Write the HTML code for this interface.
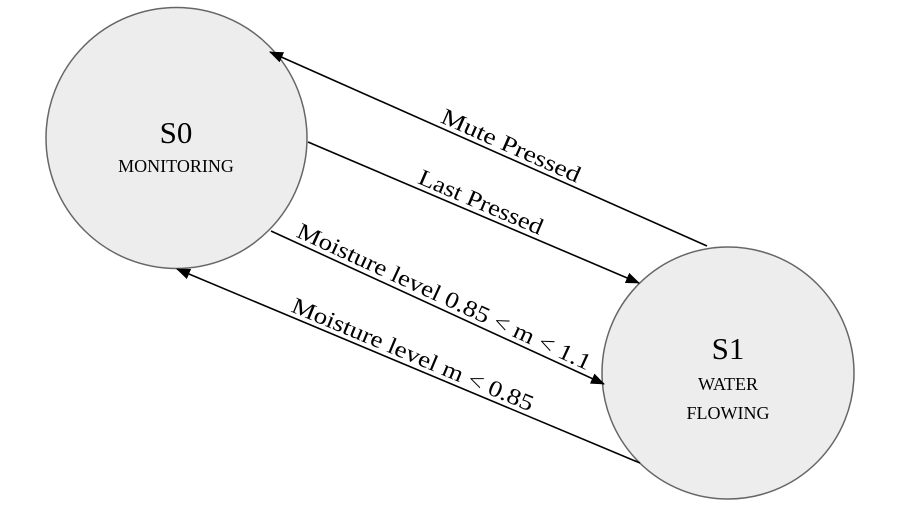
<!DOCTYPE html>
<html><head><style>html,body{margin:0;padding:0;background:#fff}svg{display:block}</style></head><body>
<svg width="912" height="526" viewBox="0 0 912 526" xmlns="http://www.w3.org/2000/svg" font-family="'Liberation Serif', serif" fill="#000">
<defs><marker id="a" markerWidth="14" markerHeight="11" refX="13" refY="5.5" orient="auto" markerUnits="userSpaceOnUse"><path d="M0,0 L14,5.5 L0,11 z" fill="#000"/></marker></defs>
<circle cx="176.5" cy="138" r="130.5" fill="#ededed" stroke="#666" stroke-width="1.5"/>
<circle cx="728" cy="373" r="126" fill="#ededed" stroke="#666" stroke-width="1.5"/>
<text x="176" y="143" font-size="31" text-anchor="middle">S0</text>
<text x="176" y="172" font-size="18" text-anchor="middle">MONITORING</text>
<text x="728" y="359" font-size="31" text-anchor="middle">S1</text>
<text x="728" y="390" font-size="18" text-anchor="middle">WATER</text>
<text x="728" y="419" font-size="18" text-anchor="middle">FLOWING</text>
<g stroke="#000" stroke-width="1.6" fill="none">
<line x1="707" y1="246" x2="270" y2="52" marker-end="url(#a)"/>
<line x1="308" y1="142" x2="639" y2="283" marker-end="url(#a)"/>
<line x1="271" y1="231" x2="604" y2="384" marker-end="url(#a)"/>
<line x1="640" y1="463" x2="177" y2="269" marker-end="url(#a)"/>
</g>
<g font-size="23" text-anchor="middle">
<text transform="translate(506,157) rotate(23.9)" x="0" y="-5" textLength="150" lengthAdjust="spacingAndGlyphs">Mute Pressed</text>
<text transform="translate(476,213.6) rotate(23.1)" x="0" y="-5" textLength="133" lengthAdjust="spacingAndGlyphs">Last Pressed</text>
<text transform="translate(439,308) rotate(24.7)" x="0" y="-5" textLength="321" lengthAdjust="spacingAndGlyphs">Moisture level 0.85 &lt; m &lt; 1.1</text>
<text transform="translate(408,366) rotate(22.7)" x="0" y="-5" textLength="260" lengthAdjust="spacingAndGlyphs">Moisture level m &lt; 0.85</text>
</g>
</svg>
</body></html>
